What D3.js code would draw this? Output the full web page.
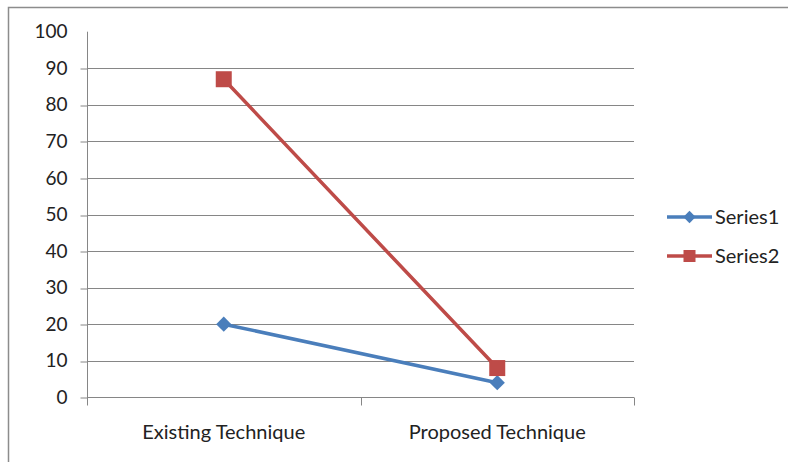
<!DOCTYPE html>
<html>
<head>
<meta charset="utf-8">
<script src="https://cdn.jsdelivr.net/npm/d3@7"></script>
<style>
  html, body { margin: 0; padding: 0; background: #fff; }
  svg { display: block; }
  text { font-family: Lato, "Open Sans", sans-serif; fill: #222; }
</style>
</head>
<body>
<script>
// Chart data
const categories = ["Existing Technique", "Proposed Technique"];
const seriesNames = ["Series1", "Series2"];
const series1 = [20, 4];
const series2 = [87, 8];
const yTicks = [0, 10, 20, 30, 40, 50, 60, 70, 80, 90, 100];

const W = 788, H = 462;
const plot = { left: 87, right: 634, top: 31.7, bottom: 397.3 };
const colors = ["#4a7ebb", "#be4b48"];
const font = "Lato, 'Open Sans', sans-serif";

const svg = d3.select("body").append("svg").attr("width", W).attr("height", H);

// Chart-area border
svg.append("rect")
  .attr("x", 8.5).attr("y", 7.5)
  .attr("width", W + 10).attr("height", H + 10)
  .attr("fill", "none").attr("stroke", "#8c8c8c").attr("stroke-width", 1.5);

const y = d3.scaleLinear().domain([0, 100]).range([plot.bottom, plot.top]);
const xBand = d3.scaleBand().domain(categories).range([plot.left, plot.right]);
const x = c => xBand(c) + xBand.bandwidth() / 2;

// Horizontal gridlines (none on the top value)
svg.append("g").selectAll("line")
  .data(yTicks.filter(t => t > 0 && t < 100))
  .join("line")
  .attr("x1", plot.left).attr("x2", plot.right)
  .attr("y1", d => Math.round(y(d)) + 0.5).attr("y2", d => Math.round(y(d)) + 0.5)
  .attr("stroke", "#868686").attr("stroke-width", 1);

// Y axis
const yAxis = d3.axisLeft(y).tickValues(yTicks).tickSize(7).tickPadding(13);
const gy = svg.append("g").attr("transform", `translate(${plot.left + 0.5},0)`).call(yAxis);
gy.select(".domain").attr("stroke", "#868686").attr("d", `M0,${plot.top}V${plot.bottom}`);
gy.selectAll(".tick line").attr("stroke", "#868686")
  .attr("x2", -7)
  .attr("transform", d => `translate(0,${Math.round(y(d)) + 0.5 - y(d)})`)
  .attr("display", d => d === 100 ? "none" : null);
gy.selectAll(".tick text").attr("font-size", 19).attr("fill", "#222")
  .attr("x", -20)
  .style("font-family", font);

// X axis
const xAxis = d3.axisBottom(xBand).tickSize(0).tickPadding(27);
const gx = svg.append("g").attr("transform", `translate(0,${Math.round(plot.bottom) + 0.5})`).call(xAxis);
gx.select(".domain").attr("stroke", "#868686").attr("d", `M${plot.left},0H${plot.right}`);
gx.selectAll(".tick text").attr("font-size", 20).attr("fill", "#222")
  .style("font-family", font);
// Category separator tick marks
gx.append("g").selectAll("line")
  .data([0, 1, 2])
  .join("line")
  .attr("x1", i => Math.round(plot.left + i * xBand.bandwidth()) + 0.5)
  .attr("x2", i => Math.round(plot.left + i * xBand.bandwidth()) + 0.5)
  .attr("y1", 0).attr("y2", 8)
  .attr("stroke", "#868686");

const line = d3.line().x((d, i) => x(categories[i])).y(d => y(d));
const allSeries = [series1, series2];

// Lines
svg.append("g").selectAll("path")
  .data(allSeries)
  .join("path")
  .attr("d", d => line(d))
  .attr("fill", "none")
  .attr("stroke", (d, i) => colors[i])
  .attr("stroke-width", 3.5)
  .attr("stroke-linecap", "round");

// Markers: diamond for Series1, square for Series2
function drawMarker(g, s, cx, cy, half) {
  if (s === 0) {
    const h = half * 0.95;
    g.append("path")
      .attr("d", `M${cx},${cy - h}L${cx + h},${cy}L${cx},${cy + h}L${cx - h},${cy}Z`)
      .attr("fill", colors[0]);
  } else {
    g.append("rect").attr("x", cx - half).attr("y", cy - half)
      .attr("width", half * 2).attr("height", half * 2).attr("fill", colors[1]);
  }
}
const mk = svg.append("g");
allSeries.forEach((vals, s) => {
  vals.forEach((v, i) => drawMarker(mk, s, x(categories[i]), y(v), 8));
});

// Legend
const legend = svg.append("g");
seriesNames.forEach((name, i) => {
  const ly = 217 + i * 39;
  legend.append("line")
    .attr("x1", 667).attr("x2", 712).attr("y1", ly).attr("y2", ly)
    .attr("stroke", colors[i]).attr("stroke-width", 3.5);
  drawMarker(legend, i, 689.5, ly, i === 0 ? 6.5 : 6);
  legend.append("text").attr("x", 715).attr("y", ly).attr("dy", "0.35em")
    .attr("font-size", 20).text(name);
});
</script>
</body>
</html>
